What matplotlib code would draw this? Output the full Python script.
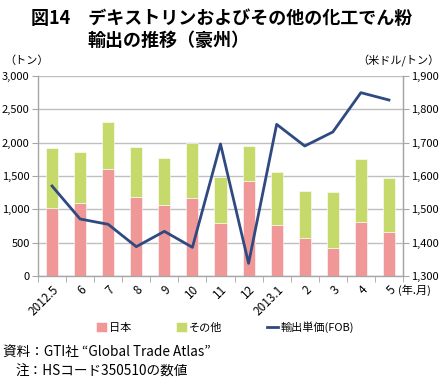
import matplotlib.pyplot as plt
import numpy as np

plt.rcParams['font.family'] = ['Noto Sans CJK JP', 'DejaVu Sans']

months = ["2012.5", "6", "7", "8", "9", "10", "11", "12", "2013.1", "2", "3", "4", "5"]
japan = [1025, 1090, 1600, 1180, 1070, 1165, 790, 1425, 770, 575, 425, 815, 665]
total = [1915, 1865, 2310, 1935, 1770, 1995, 1490, 1950, 1555, 1275, 1265, 1760, 1465]
other = [t - j for t, j in zip(total, japan)]
price = [1570, 1471, 1455, 1388, 1434, 1386, 1696, 1338, 1755, 1690, 1732, 1850, 1828]

pink = "#F09898"
green = "#C6DA6C"
navy = "#2F4A80"
grey = "#A6A6A6"

fig = plt.figure(figsize=(4.44, 3.84), dpi=100)
ax = fig.add_axes([38 / 444, 1 - 276 / 384, (403 - 38) / 444, 200 / 384])

x = np.arange(len(months))
ax.bar(x, japan, width=0.43, color=pink, edgecolor="white", linewidth=0.4, label="日本", zorder=2)
ax.bar(x, other, width=0.43, bottom=japan, color=green, edgecolor="white", linewidth=0.4, label="その他", zorder=2)
ax.set_xlim(-0.5, len(months) - 0.5)
ax.set_ylim(0, 3000)
ax.set_yticks(np.arange(0, 3001, 500))
ax.set_yticklabels([f"{v:,}" for v in range(0, 3001, 500)], fontsize=8)
ax.yaxis.grid(True, color="#BFBFBF", linewidth=1.0, zorder=0)
ax.set_axisbelow(True)

ax.set_xticks(x)
ax.set_xticklabels(months, rotation=45, ha="right", rotation_mode="anchor", fontsize=8.5)
ax.set_xticks(np.arange(-0.5, len(months)), minor=True)
ax.tick_params(axis="x", which="major", length=0, pad=5)
ax.tick_params(axis="x", which="minor", length=4, color=grey)
ax.tick_params(axis="y", length=4, color=grey, pad=2)

ax.spines["top"].set_visible(False)
for s in ["left", "right", "bottom"]:
    ax.spines[s].set_color(grey)
    ax.spines[s].set_linewidth(1.0)

ax2 = ax.twinx()
ax2.plot(x, price, color=navy, linewidth=2, label="輸出単価(FOB)", zorder=3)
ax2.set_ylim(1300, 1900)
ax2.set_yticks(np.arange(1300, 1901, 100))
ax2.set_yticklabels([f"{v:,}" for v in range(1300, 1901, 100)], fontsize=8)
ax2.tick_params(axis="y", length=4, color=grey, pad=2)
for s in ["top", "left", "bottom"]:
    ax2.spines[s].set_visible(False)
ax2.spines["right"].set_color(grey)

fig.text(31 / 444, 1 - 18 / 384, "図14　デキストリンおよびその他の化工でん粉",
         fontsize=13, fontweight="bold", va="center", ha="left")
fig.text(87 / 444, 1 - 40 / 384, "輸出の推移（豪州）",
         fontsize=13, fontweight="bold", va="center", ha="left")
fig.text(4 / 444, 1 - 61 / 384, "（トン）", fontsize=8, va="center", ha="left")
fig.text(440 / 444, 1 - 61 / 384, "（米ドル/トン）", fontsize=8, va="center", ha="right")
fig.text(398 / 444, 1 - 290 / 384, "(年.月)", fontsize=8, va="center", ha="left")

h1, l1 = ax.get_legend_handles_labels()
h2, l2 = ax2.get_legend_handles_labels()
fig.legend(h1 + h2, l1 + l2, loc="center", bbox_to_anchor=(225 / 444, 1 - 327 / 384),
           ncol=3, frameon=False, fontsize=8, handlelength=1.0, handleheight=0.9,
           columnspacing=4.0, handletextpad=0.2)

fig.text(3 / 444, 1 - 352 / 384, "資料：GTI社 “Global Trade Atlas”", fontsize=9.8, va="center", ha="left")
fig.text(15 / 444, 1 - 372 / 384, "注：HSコード350510の数値", fontsize=9.8, va="center", ha="left")

fig.savefig("out.png", dpi=100)
